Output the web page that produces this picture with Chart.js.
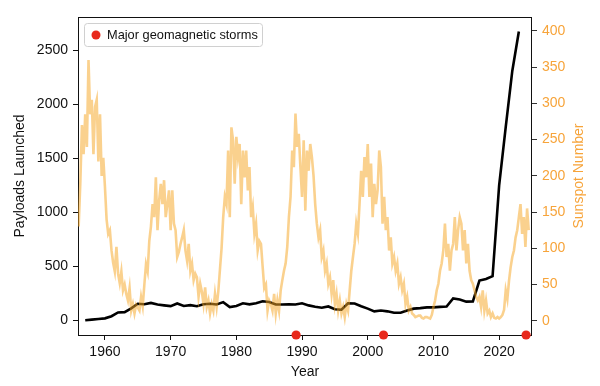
<!DOCTYPE html>
<html>
<head>
<meta charset="utf-8">
<script src="https://cdn.jsdelivr.net/npm/chart.js@4/dist/chart.umd.min.js"></script>
<style>
html, body { margin: 0; padding: 0; background: #fff; }
</style>
</head>
<body>
<canvas id="myChart" width="600" height="386"></canvas>
<script>
// payloads launched per year
const payloadYears = [1957, 1958, 1959, 1960, 1961, 1962, 1963, 1964, 1965, 1966,
    1967, 1968, 1969, 1970, 1971, 1972, 1973, 1974, 1975, 1976,
    1977, 1978, 1979, 1980, 1981, 1982, 1983, 1984, 1985, 1986,
    1987, 1988, 1989, 1990, 1991, 1992, 1993, 1994, 1995, 1996,
    1997, 1998, 1999, 2000, 2001, 2002, 2003, 2004, 2005, 2006,
    2007, 2008, 2009, 2010, 2011, 2012, 2013, 2014, 2015, 2016,
    2017, 2018, 2019, 2020, 2021, 2022, 2023];
const payloads = [3, 8, 14, 20, 40, 75, 78, 112, 155, 150,
    163, 148, 140, 133, 158, 135, 142, 132, 150, 155,
    148, 170, 125, 135, 160, 150, 160, 178, 172, 148,
    148, 150, 148, 160, 140, 128, 118, 130, 105, 100,
    160, 158, 132, 110, 85, 92, 85, 72, 72, 92,
    110, 115, 122, 122, 126, 130, 205, 195, 175, 176,
    370, 385, 410, 1250, 1790, 2310, 2675];

// sunspot number, quarterly readings starting 1956.0
const sunStart = 1956;
const sunPerYear = 4;
const sunspots = [
    130, 190, 270, 230,   // 1956
    285, 240, 360, 285,
    305, 230, 295, 305,
    220, 285, 200, 225,
    185, 140, 120, 125,   // 1960
    97, 80, 68, 102,
    65, 52, 68, 42,
    50, 37, 28, 45,
    14, 23, 10, 22,
    18, 14, 33, 20,       // 1965
    50, 78, 68, 110,
    130, 161, 143, 198,
    125, 166, 189, 161,
    194, 143, 161, 180,
    125, 180, 134, 125,   // 1970
    88, 95, 106, 115,
    125, 97, 83, 106,
    69, 79, 56, 65,
    60, 33, 51, 40,
    23, 46, 19, 28,       // 1975
    10, 23, 14, 37,
    19, 40, 70, 100,
    143, 171, 161, 235,
    143, 267, 249, 189,
    254, 226, 244, 161,   // 1980
    235, 198, 235, 180,
    212, 143, 157, 120,
    134, 97, 110, 106,
    75, 45, 50, 14,
    28, 23, 14, 37,       // 1985
    10, 28, 14, 42,
    56, 69, 79, 102,
    143, 171, 235, 212,
    286, 240, 258, 212,
    171, 249, 152, 235,   // 1990
    207, 244, 226, 200,
    161, 134, 115, 125,
    88, 97, 69, 79,
    51, 60, 37, 56,
    23, 37, 14, 28,       // 1995
    10, 19, 5, 23,
    14, 42, 69, 88,
    106, 134, 120, 161,
    207, 171, 226, 198,
    244, 171, 217, 143,   // 2000
    189, 161, 180, 235,
    212, 134, 171, 125,
    143, 97, 115, 79,
    88, 69, 79, 51,
    60, 42, 51, 23,       // 2005
    33, 14, 19, 10,
    8, 5, 6, 7,
    7, 4, 3, 5,
    5, 4, 3, 8,
    19, 28, 42, 51,       // 2010
    69, 79, 97, 134,
    88, 106, 69, 97,
    106, 143, 97, 125,
    143, 134, 97, 125,
    79, 106, 69, 56,      // 2015
    51, 42, 33, 28,
    33, 19, 42, 14,
    28, 10, 14, 5,
    10, 4, 3, 5,
    3, 5, 8, 15,          // 2020
    42, 30, 55, 74,
    88, 97, 115, 125,
    143, 161, 120, 143,
    102, 155, 125
];

// major geomagnetic storms, placed on the x axis
const stormYears = [1989.1, 2002.4, 2024.1];

const xTicks = [1960, 1970, 1980, 1990, 2000, 2010, 2020];
const leftTicks = [0, 500, 1000, 1500, 2000, 2500];
const rightTicks = [0, 50, 100, 150, 200, 250, 300, 350, 400];

const FONT = "'Liberation Sans', Arial, Helvetica, sans-serif";
const ORANGE = '#f7a43a';
const SUN_LINE = 'rgba(245, 166, 38, 0.52)';
const LEFT_MIN = -134, LEFT_MAX = 2809;

const payloadPoints = payloadYears.map((yr, i) => ({ x: yr, y: payloads[i] }));
const sunPoints = sunspots.map((v, i) => ({ x: sunStart + i / sunPerYear, y: v }));
const stormPoints = stormYears.map(yr => ({ x: yr, y: LEFT_MIN }));

const extras = {
    id: 'extras',
    beforeDatasetsDraw(chart) {
        const { ctx, chartArea: a } = chart;
        ctx.save();
        ctx.strokeStyle = '#111';
        ctx.lineWidth = 1;
        ctx.strokeRect(a.left + 0.5, a.top + 0.5, a.right - a.left - 1, a.bottom - a.top);
        ctx.restore();
    },
    afterDraw(chart) {
        const { ctx, chartArea: a } = chart;
        const storms = chart.data.datasets[2];
        ctx.save();
        // legend box
        const bx = 84.5, by = 23.5, bw = 178, bh = 23, r = 3;
        ctx.beginPath();
        ctx.moveTo(bx + r, by);
        ctx.arcTo(bx + bw, by, bx + bw, by + bh, r);
        ctx.arcTo(bx + bw, by + bh, bx, by + bh, r);
        ctx.arcTo(bx, by + bh, bx, by, r);
        ctx.arcTo(bx, by, bx + bw, by, r);
        ctx.closePath();
        ctx.fillStyle = 'rgba(255,255,255,0.85)';
        ctx.fill();
        ctx.strokeStyle = '#d0d0d0';
        ctx.lineWidth = 1;
        ctx.stroke();
        ctx.beginPath();
        ctx.arc(96, 35, 4.5, 0, Math.PI * 2);
        ctx.fillStyle = storms.backgroundColor;
        ctx.fill();
        ctx.fillStyle = '#111';
        ctx.font = '12.8px ' + FONT;
        ctx.textBaseline = 'middle';
        ctx.textAlign = 'left';
        ctx.fillText(storms.label, 107, 35.5);
        // right axis title, reading bottom to top
        ctx.translate(579, (a.top + a.bottom) / 2);
        ctx.rotate(-Math.PI / 2);
        ctx.textAlign = 'center';
        ctx.fillStyle = ORANGE;
        ctx.font = '14px ' + FONT;
        ctx.fillText('Sunspot Number', 0, 0);
        ctx.restore();
    }
};

const ctx = document.getElementById('myChart').getContext('2d');
new Chart(ctx, {
    type: 'line',
    data: {
        datasets: [
            {
                label: 'Payloads Launched',
                data: payloadPoints,
                yAxisID: 'y',
                borderColor: '#000',
                borderWidth: 2.6,
                pointRadius: 0,
                tension: 0,
                order: 2
            },
            {
                label: 'Sunspot Number',
                data: sunPoints,
                yAxisID: 'y2',
                borderColor: SUN_LINE,
                borderWidth: 2.6,
                pointRadius: 0,
                tension: 0,
                order: 1
            },
            {
                type: 'scatter',
                label: 'Major geomagnetic storms',
                data: stormPoints,
                yAxisID: 'y',
                showLine: false,
                pointRadius: 4.6,
                backgroundColor: '#e8291c',
                borderColor: '#e8291c',
                borderWidth: 0,
                clip: false,
                order: 0
            }
        ]
    },
    options: {
        responsive: false,
        animation: false,
        layout: { padding: { top: 17, left: 0, right: 0, bottom: 0 } },
        plugins: {
            legend: { display: false },
            tooltip: { enabled: false }
        },
        scales: {
            x: {
                type: 'linear',
                position: 'bottom',
                min: 1955.9,
                max: 2025.0,
                afterBuildTicks: s => { s.ticks = xTicks.map(v => ({ value: v })); },
                afterFit: s => { s.height = 51; },
                ticks: {
                    color: '#111',
                    font: { family: FONT, size: 14 },
                    padding: 4,
                    maxRotation: 0,
                    callback: v => String(v)
                },
                grid: { drawOnChartArea: false, drawTicks: true, tickLength: 5, color: '#111' },
                border: { display: false },
                title: {
                    display: true,
                    text: 'Year',
                    color: '#111',
                    font: { family: FONT, size: 14 },
                    padding: { top: 0, bottom: 5 }
                }
            },
            y: {
                type: 'linear',
                position: 'left',
                min: LEFT_MIN,
                max: LEFT_MAX,
                afterBuildTicks: s => { s.ticks = leftTicks.map(v => ({ value: v })); },
                afterFit: s => { s.width = 78; },
                ticks: {
                    color: '#111',
                    font: { family: FONT, size: 14 },
                    padding: 5,
                    callback: v => String(v)
                },
                grid: { drawOnChartArea: false, drawTicks: true, tickLength: 5, color: '#111' },
                border: { display: false },
                title: {
                    display: true,
                    text: 'Payloads Launched',
                    color: '#111',
                    font: { family: FONT, size: 14 },
                    padding: { top: 12, bottom: 0 }
                }
            },
            y2: {
                type: 'linear',
                position: 'right',
                min: -19.7,
                max: 419.3,
                afterBuildTicks: s => { s.ticks = rightTicks.map(v => ({ value: v })); },
                afterFit: s => { s.width = 68; },
                ticks: {
                    color: ORANGE,
                    font: { family: FONT, size: 14 },
                    padding: 5,
                    callback: v => String(v)
                },
                grid: { drawOnChartArea: false, drawTicks: true, tickLength: 5, color: '#333' },
                border: { display: false }
            }
        }
    },
    plugins: [extras]
});
</script>
</body>
</html>
